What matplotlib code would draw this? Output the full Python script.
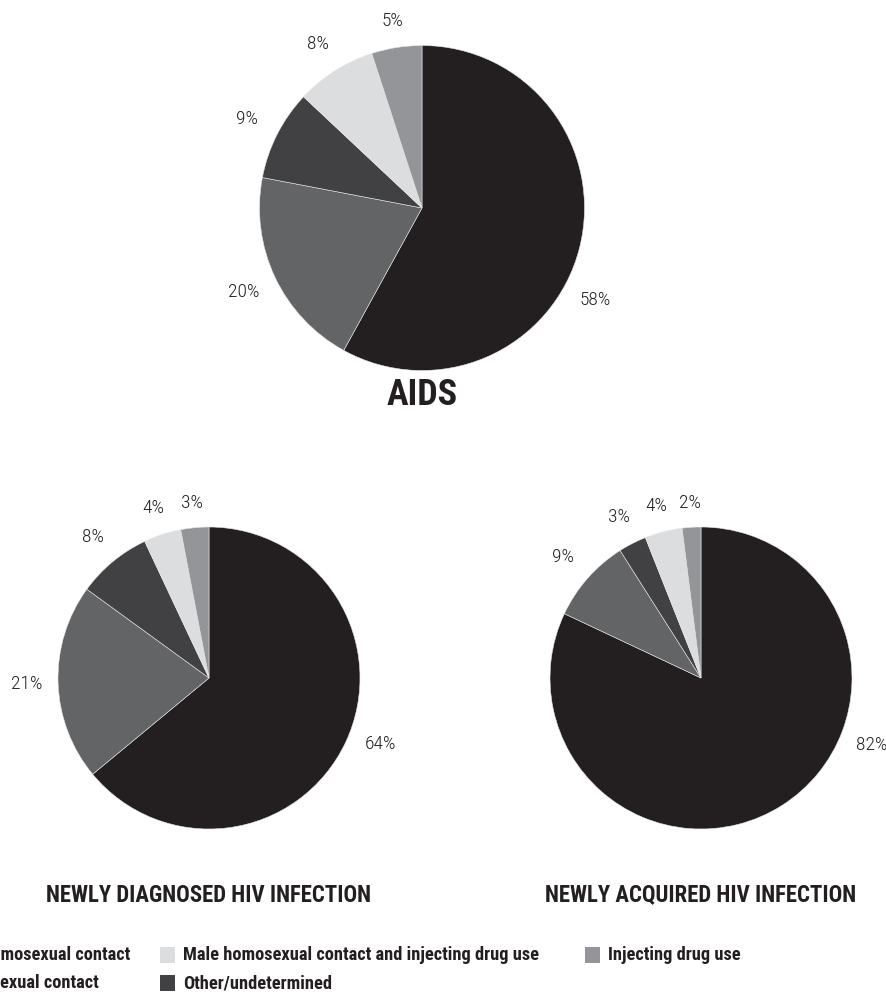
import numpy as np
from matplotlib import pyplot as plt
from matplotlib import font_manager as fm
from matplotlib.patches import Rectangle

# slices, clockwise from 12 o'clock
categories = ['Male homosexual contact', 'Heterosexual contact', 'Other/undetermined',
              'Male homosexual contact and injecting drug use', 'Injecting drug use']
colors = ['#231f20', '#636466', '#414143', '#dcdddf', '#939598']

aids = [58, 20, 9, 8, 5]
newly_diagnosed = [64, 21, 8, 4, 3]
newly_acquired = [82, 9, 3, 4, 2]
titles = ['AIDS', 'NEWLY DIAGNOSED HIV INFECTION', 'NEWLY ACQUIRED HIV INFECTION']

# legend is laid out column by column, two rows
legend_order = [0, 1, 3, 2, 4]

# pick a condensed face that has the weight we need
narrow = ['Roboto Condensed', 'Archivo Narrow', 'PT Sans Narrow', 'IBM Plex Sans Condensed',
          'Barlow Semi Condensed', 'Liberation Sans Narrow']


def pick(*weights):
    have = {(f.name, f.weight) for f in fm.fontManager.ttflist}
    for n in narrow:
        for w in weights:
            if (n, w) in have:
                return [n, 'DejaVu Sans'], w
    return ['DejaVu Sans'], weights[-1]


light, light_w = pick(300, 400)
bold, bold_w = pick(700)
ink = '#231f20'

W, H = 886, 994
fig = plt.figure(figsize=(W / 100, H / 100), dpi=100)
ax = fig.add_axes([0, 0, 1, 1])


def draw_pie(values, cx, cy, r, big_angle, title, title_y, title_size):
    cy = H - cy
    wedges, _ = ax.pie(values, colors=colors, startangle=90, counterclock=False,
                       center=(cx, cy), radius=r, frame=True,
                       wedgeprops=dict(edgecolor='#e6e6e6', linewidth=0.4))
    big = int(np.argmax(values))
    for i, (w, v) in enumerate(zip(wedges, values)):
        ang = (w.theta1 + w.theta2) / 2 if i != big else big_angle
        ux, uy = np.cos(np.radians(ang)), np.sin(np.radians(ang))
        d = r * 1.1 + 16 * abs(ux) + 8 * abs(uy)
        ax.text(cx + d * ux, cy + d * uy, f'{v}%', ha='center', va='center',
                fontsize=14, color=ink, family=light, fontweight=light_w)
    ax.text(cx, H - title_y, title, ha='center', va='center', fontsize=title_size,
            fontweight=bold_w, color=ink, family=bold)


draw_pie(aids, 422, 208, 162.5, -28, titles[0], 395, 26)
draw_pie(newly_diagnosed, 209, 678, 151, -21, titles[1], 895, 16.4)
draw_pie(newly_acquired, 701, 678, 151, -21.5, titles[2], 895, 16.4)
ax.set_xlim(0, W)
ax.set_ylim(0, H)
ax.axis('off')

# legend, its first column runs off the left edge
col_x = [None, 160, 585]
row_y = [955, 983]
first_col_end = 130
renderer = fig.canvas.get_renderer()
for k, idx in enumerate(legend_order):
    y = H - row_y[k % 2]
    t = ax.text(0, y, categories[idx], ha='left', va='center', fontsize=13.2,
                fontweight=bold_w, color=ink, family=bold)
    x = col_x[k // 2]
    if x is None:
        if k == 0:
            col_x[0] = first_col_end - t.get_window_extent(renderer).width - 23
        x = col_x[0]
    t.set_x(x + 23)
    ax.add_patch(Rectangle((x, y - 8), 15, 16, facecolor=colors[idx], edgecolor='none',
                           clip_on=False))

fig.savefig('out.png', dpi=100)
